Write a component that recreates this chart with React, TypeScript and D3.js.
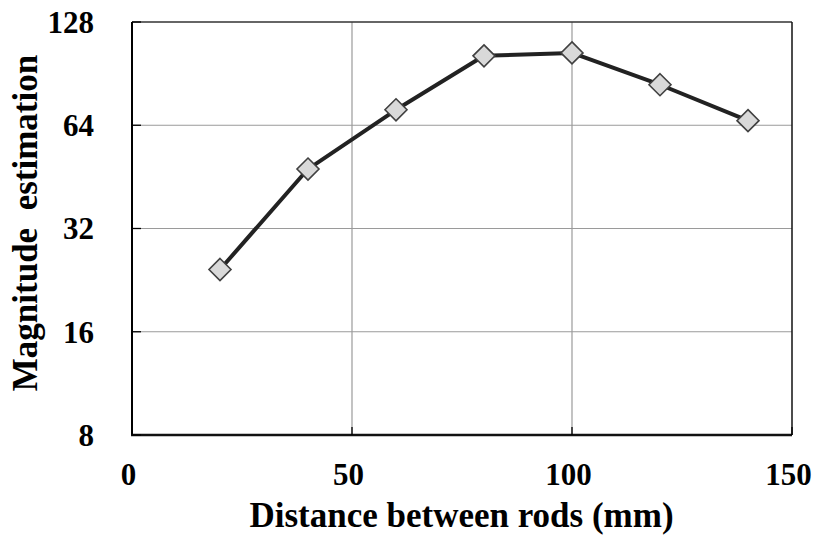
import React from "react";
import * as d3 from "d3";

// Distance between rods (mm) and the mean magnitude estimate at each distance
const distances = [20, 40, 60, 80, 100, 120, 140];
const magnitudes = [24.3, 47.7, 71, 102, 104, 84, 66];

const xTicks = [0, 50, 100, 150];
const yTicks = [8, 16, 32, 64, 128];

const W = 814;
const H = 536;
const plot = { left: 132, right: 792, top: 22, bottom: 435 };
const FONT = "'Liberation Serif', 'Times New Roman', serif";

export default function App() {
  const x = d3.scaleLinear().domain([0, 150]).range([plot.left, plot.right]);
  const y = d3.scaleLog().base(2).domain([8, 128]).range([plot.bottom, plot.top]);

  const points = distances.map((d, i) => [x(d), y(magnitudes[i])] as [number, number]);
  const line = d3.line()(points) || "";
  const diamond = (cx: number, cy: number, r: number) =>
    `M${cx},${cy - r}L${cx + r},${cy}L${cx},${cy + r}L${cx - r},${cy}Z`;

  return (
    <svg
      width={W}
      height={H}
      viewBox={`0 0 ${W} ${H}`}
      style={{ position: "absolute", left: 0, top: 0, background: "#fff" }}
    >
      {/* grid */}
      {yTicks.slice(1, -1).map((t) => (
        <line key={`gy${t}`} x1={plot.left} x2={plot.right} y1={y(t)} y2={y(t)} stroke="#9a9a9a" strokeWidth={1.2} />
      ))}
      {xTicks.slice(1, -1).map((t) => (
        <line key={`gx${t}`} x1={x(t)} x2={x(t)} y1={plot.top} y2={plot.bottom} stroke="#9a9a9a" strokeWidth={1.2} />
      ))}

      {/* frame */}
      <line x1={plot.left} x2={plot.right} y1={plot.top} y2={plot.top} stroke="#333" strokeWidth={1.5} />
      <line x1={plot.right} x2={plot.right} y1={plot.top} y2={plot.bottom} stroke="#111" strokeWidth={1.5} />
      <line x1={plot.left} x2={plot.left} y1={plot.top} y2={plot.bottom + 1} stroke="#000" strokeWidth={2} />
      <line x1={plot.left - 1} x2={plot.right} y1={plot.bottom} y2={plot.bottom} stroke="#111" strokeWidth={2.5} />

      {/* inward ticks */}
      {yTicks.map((t) => (
        <line key={`ty${t}`} x1={plot.left} x2={plot.left + 9} y1={y(t)} y2={y(t)} stroke="#000" strokeWidth={1.3} />
      ))}
      {xTicks.map((t) => (
        <line key={`tx${t}`} x1={x(t)} x2={x(t)} y1={plot.bottom} y2={plot.bottom - 8} stroke="#000" strokeWidth={1.3} />
      ))}

      {/* tick labels */}
      {yTicks.map((t) => (
        <text
          key={`ly${t}`}
          x={94}
          y={y(t)}
          dy="0.35em"
          textAnchor="end"
          fontFamily={FONT}
          fontWeight="bold"
          fontSize={31}
          fill="#000"
        >
          {t}
        </text>
      ))}
      {xTicks.map((t) => (
        <text
          key={`lx${t}`}
          x={x(t) - 3.5}
          y={485}
          textAnchor="middle"
          fontFamily={FONT}
          fontWeight="bold"
          fontSize={31}
          fill="#000"
        >
          {t}
        </text>
      ))}

      {/* axis titles */}
      <text
        x={461.5}
        y={527}
        textAnchor="middle"
        fontFamily={FONT}
        fontWeight="bold"
        fontSize={35}
        fill="#000"
      >
        Distance between rods (mm)
      </text>
      <text
        transform={`translate(37, 223) rotate(-90)`}
        textAnchor="middle"
        fontFamily={FONT}
        fontWeight="bold"
        fontSize={35}
        fill="#000"
        style={{ whiteSpace: "pre" }}
      >
        {"Magnitude  estimation"}
      </text>

      {/* series */}
      <path d={line} fill="none" stroke="#222" strokeWidth={4} strokeLinejoin="round" />
      {points.map(([px, py], i) => (
        <path key={`m${i}`} d={diamond(px, py, 11)} fill="#d9d9d9" stroke="#404040" strokeWidth={1.6} />
      ))}
    </svg>
  );
}
